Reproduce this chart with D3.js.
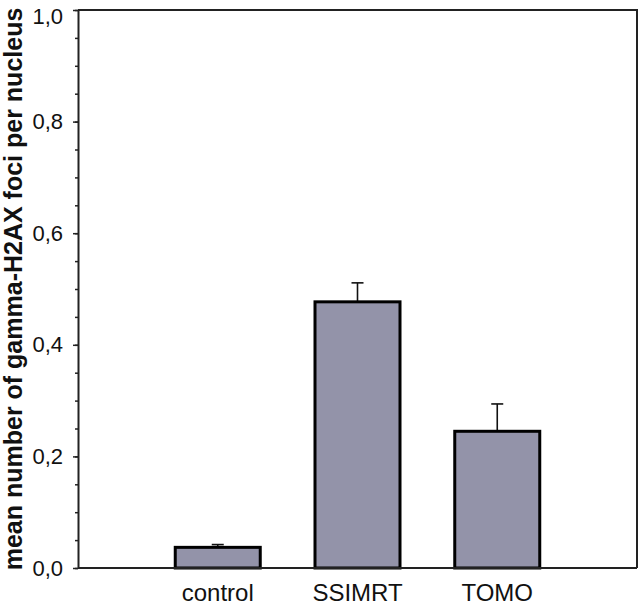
<!DOCTYPE html>
<html>
<head>
<meta charset="utf-8">
<script src="https://cdn.jsdelivr.net/npm/d3@7"></script>
<style>
  body { margin: 0; background: #fff; }
  text { font-family: Arial, "Liberation Sans", sans-serif; }
</style>
</head>
<body>
<div id="chart"></div>
<script>
// chart data
const categories = ["control", "SSIMRT", "TOMO"];
const means = [0.037, 0.477, 0.245];
const errors = [0.005, 0.034, 0.049];
const yTicks = [0, 0.2, 0.4, 0.6, 0.8, 1.0];
const yMinorTicks = d3.range(0, 1.0001, 0.05);

const width = 640;
const height = 605;
const margin = { top: 10, right: 3, bottom: 37, left: 78 };

const svg = d3.select("#chart")
  .append("svg")
  .attr("width", width)
  .attr("height", height);

const x = d3.scalePoint()
  .domain(categories)
  .range([margin.left, width - margin.right])
  .padding(1);

const y = d3.scaleLinear()
  .domain([0, 1])
  .range([height - margin.bottom, margin.top]);

const barW = 85;
const data = categories.map((c, i) => ({ cat: c, mean: means[i], err: errors[i] }));

// error bars (upper only)
const eb = svg.append("g")
  .attr("stroke", "#111")
  .attr("stroke-width", 1.6);
eb.selectAll("line.v")
  .data(data)
  .join("line")
    .attr("class", "v")
    .attr("x1", d => x(d.cat))
    .attr("x2", d => x(d.cat))
    .attr("y1", d => y(d.mean))
    .attr("y2", d => y(d.mean + d.err));
eb.selectAll("line.cap")
  .data(data)
  .join("line")
    .attr("class", "cap")
    .attr("x1", d => x(d.cat) - 6)
    .attr("x2", d => x(d.cat) + 6)
    .attr("y1", d => y(d.mean + d.err))
    .attr("y2", d => y(d.mean + d.err));

// bars
svg.append("g")
  .selectAll("rect")
  .data(data)
  .join("rect")
    .attr("x", d => x(d.cat) - barW / 2)
    .attr("y", d => y(d.mean))
    .attr("width", barW)
    .attr("height", d => y(0) - y(d.mean))
    .attr("fill", "#9393a9")
    .attr("stroke", "#000")
    .attr("stroke-width", 3);

// frame (top and right)
svg.append("path")
  .attr("d", `M${margin.left},${margin.top}H${width - margin.right}V${y(0)}`)
  .attr("fill", "none")
  .attr("stroke", "#222")
  .attr("stroke-width", 2);

// minor ticks
svg.append("g")
  .attr("transform", `translate(${margin.left},0)`)
  .call(d3.axisLeft(y).tickValues(yMinorTicks).tickSize(3).tickFormat(""))
  .call(g => g.select(".domain").remove())
  .selectAll("line").attr("stroke", "#222").attr("stroke-width", 1.5);

// y axis
const yAxis = svg.append("g")
  .attr("transform", `translate(${margin.left},0)`)
  .call(d3.axisLeft(y).tickValues(yTicks).tickSize(5).tickSizeOuter(0).tickPadding(10)
    .tickFormat(d => d3.format(".1f")(d).replace(".", ",")));
yAxis.select(".domain").attr("stroke", "#222").attr("stroke-width", 2);
yAxis.selectAll(".tick line").attr("stroke", "#222").attr("stroke-width", 1.5);
yAxis.selectAll(".tick text")
  .attr("font-size", 22)
  .attr("fill", "#111")
  .attr("dy", d => d === 1 ? "0.62em" : "0.32em")
  .style("font-family", "Arial, 'Liberation Sans', sans-serif");

// x axis
svg.append("line")
  .attr("x1", margin.left).attr("x2", width - margin.right)
  .attr("y1", y(0)).attr("y2", y(0))
  .attr("stroke", "#222").attr("stroke-width", 2);

svg.append("g")
  .selectAll("text")
  .data(categories)
  .join("text")
    .attr("x", d => x(d))
    .attr("y", 601)
    .attr("text-anchor", "middle")
    .attr("font-size", 24)
    .attr("fill", "#111")
    .text(d => d);

// y title
svg.append("text")
  .attr("transform", `translate(22,${(margin.top + y(0)) / 2}) rotate(-90)`)
  .attr("text-anchor", "middle")
  .attr("font-size", 25)
  .attr("font-weight", "bold")
  .attr("fill", "#111")
  .text("mean number of gamma-H2AX foci per nucleus");
</script>
</body>
</html>
